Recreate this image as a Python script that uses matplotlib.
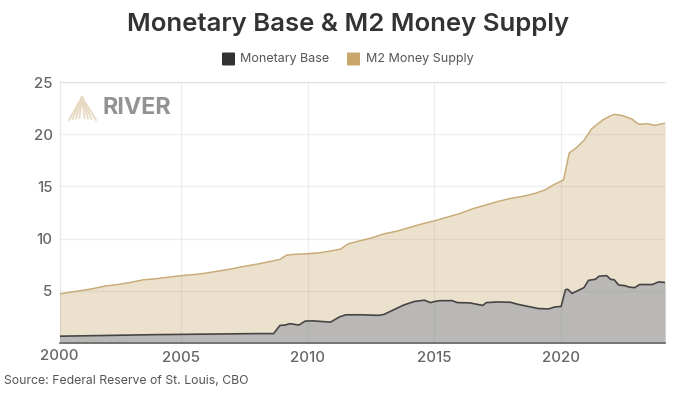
import matplotlib
matplotlib.use("Agg")
import matplotlib.pyplot as plt
from matplotlib.patches import FancyBboxPatch

plt.rcParams['font.family'] = ['Inter', 'DejaVu Sans']

m2_years = [2000.2, 2000.6, 2001, 2001.5, 2002, 2002.5, 2003, 2003.5, 2004, 2004.5, 2005, 2005.5, 2006, 2006.5, 2007,
            2007.5, 2008, 2008.6, 2008.9, 2009.15, 2009.5, 2010, 2010.5, 2011, 2011.3, 2011.6, 2012, 2012.5, 2013, 2013.5,
            2014, 2014.5, 2015, 2015.5, 2016, 2016.5, 2017, 2017.5, 2018, 2018.5, 2019, 2019.4, 2019.7, 2020.0, 2020.1,
            2020.2, 2020.32, 2020.6, 2020.9, 2021.2, 2021.4, 2021.7, 2021.95, 2022.1, 2022.4, 2022.8, 2023.0, 2023.1,
            2023.4, 2023.7, 2024.1]
m2_values = [4.7, 4.85, 5.0, 5.2, 5.45, 5.6, 5.8, 6.05, 6.15, 6.3, 6.45, 6.55, 6.7, 6.9, 7.1,
             7.35, 7.55, 7.85, 8.0, 8.4, 8.5, 8.55, 8.65, 8.85, 9.0, 9.5, 9.75, 10.05, 10.45, 10.7,
             11.05, 11.4, 11.7, 12.05, 12.4, 12.85, 13.2, 13.55, 13.85, 14.05, 14.35, 14.7, 15.15, 15.5, 15.65,
             16.8, 18.2, 18.7, 19.4, 20.5, 20.9, 21.45, 21.75, 21.9, 21.8, 21.45, 21.05, 20.95,
             21.0, 20.85, 21.05]

base_years = [2000.2, 2002, 2004, 2006, 2008.0, 2008.65, 2008.9, 2009.1, 2009.3, 2009.65, 2009.9, 2010.2, 2010.9, 2011.25,
              2011.5, 2012.1, 2012.8, 2013.0, 2013.8, 2014.2, 2014.6, 2014.85, 2015.0, 2015.2, 2015.7, 2015.9, 2016.4,
              2016.9, 2017.05, 2017.5, 2018.0, 2018.3, 2018.8, 2019.1, 2019.5, 2019.75, 2020.0, 2020.17, 2020.26, 2020.43,
              2020.9, 2021.08, 2021.35, 2021.5, 2021.8, 2021.95, 2022.1, 2022.27, 2022.5, 2022.7, 2022.9, 2023.1, 2023.6,
              2023.85, 2024.1]
base_values = [0.65, 0.72, 0.8, 0.85, 0.9, 0.9, 1.68, 1.72, 1.85, 1.72, 2.1, 2.12, 2.0, 2.5,
               2.7, 2.7, 2.65, 2.73, 3.65, 3.97, 4.1, 3.87, 3.97, 4.05, 4.06, 3.87, 3.84,
               3.6, 3.87, 3.93, 3.9, 3.7, 3.45, 3.3, 3.26, 3.45, 3.5, 5.1, 5.15, 4.75,
               5.3, 6.0, 6.1, 6.4, 6.45, 6.1, 6.05, 5.55, 5.5, 5.35, 5.3, 5.6, 5.6,
               5.85, 5.8]

tick_positions = [2000.2, 2005, 2010, 2015, 2020]
tick_labels = ['2000', '2005', '2010', '2015', '2020']
y_ticks = [5, 10, 15, 20, 25]

fig = plt.figure(figsize=(7, 3.95), dpi=100, facecolor='white')
L, R, T, B = 59.5, 665, 82, 343
ax = fig.add_axes([L/700, 1-B/395, (R-L)/700, (B-T)/395])
ax.set_xlim(2000.2, 2024.1)
ax.set_ylim(0, 25)

ax.fill_between(m2_years, m2_values, 0, color='#ebe1cd', lw=0, zorder=1)
ax.fill_between(base_years, base_values, 0, color='#b9b8b7', lw=0, zorder=2)
ax.plot(m2_years, m2_values, color='#c9ab78', lw=1.1, zorder=4)
ax.plot(base_years, base_values, color='#444444', lw=1.2, zorder=4)

ax.set_xticks(tick_positions[1:])
ax.set_xticklabels(tick_labels[1:], fontweight='medium')
ax.set_yticks(y_ticks)
ax.set_yticklabels([str(v) for v in y_ticks], fontweight='medium')
ax.grid(True, color='#8a8a8a', alpha=0.13, lw=1, zorder=3)
ax.set_axisbelow(False)
ax.tick_params(length=0, labelsize=10.8, labelcolor='#666666')
ax.tick_params(axis='x', pad=6)
ax.tick_params(axis='y', pad=5)
for s in ['top', 'right', 'left']:
    ax.spines[s].set_visible(False)
ax.spines['bottom'].set_color('#666666')
ax.spines['bottom'].set_linewidth(1.2)
ax.axvline(2000.2, color='#8a8a8a', alpha=0.16, lw=1, zorder=3, clip_on=False)
ax.axhline(25, color='#8a8a8a', alpha=0.13, lw=1, zorder=3, clip_on=False)

def fx(px): return px/700
def fy(py): return 1-py/395

fig.text(fx(59.5), fy(356), tick_labels[0], ha='center', va='center', fontsize=10.8,
         fontweight='medium', color='#666666')
fig.text(fx(348), fy(24), 'Monetary Base & M2 Money Supply', ha='center', va='center',
         fontsize=18.5, fontweight='semibold', color='#333333')
fig.text(fx(4), fy(381), 'Source: Federal Reserve of St. Louis, CBO', ha='left', va='center',
         fontsize=8.8, color='#555555')

fig.add_artist(FancyBboxPatch((fx(222), fy(65.5)), 13/700, 13/395, boxstyle='round,pad=0,rounding_size=0.002',
                              transform=fig.transFigure, fc='#333333', ec='none'))
fig.text(fx(240), fy(59), 'Monetary Base', ha='left', va='center', fontsize=9, color='#555555')
fig.add_artist(FancyBboxPatch((fx(347), fy(65.5)), 13/700, 13/395, boxstyle='round,pad=0,rounding_size=0.002',
                              transform=fig.transFigure, fc='#c9a66b', ec='none'))
fig.text(fx(366), fy(59), 'M2 Money Supply', ha='left', va='center', fontsize=9, color='#555555')

# RIVER logo
for base_x, base_y in [(69, 120), (72.5, 119), (76, 118.5), (79.5, 118), (84.5, 118), (88, 118.5), (91.5, 119), (96, 120)]:
    fig.add_artist(plt.Line2D([fx(82), fx(base_x)], [fy(97), fy(base_y)],
                              transform=fig.transFigure, color='#e6dac2', lw=1.3))
fig.text(fx(103), fy(108.5), 'RIVER', ha='left', va='center', fontsize=16.8, fontweight='bold', color='#939393')

fig.savefig('out.png', dpi=100)
